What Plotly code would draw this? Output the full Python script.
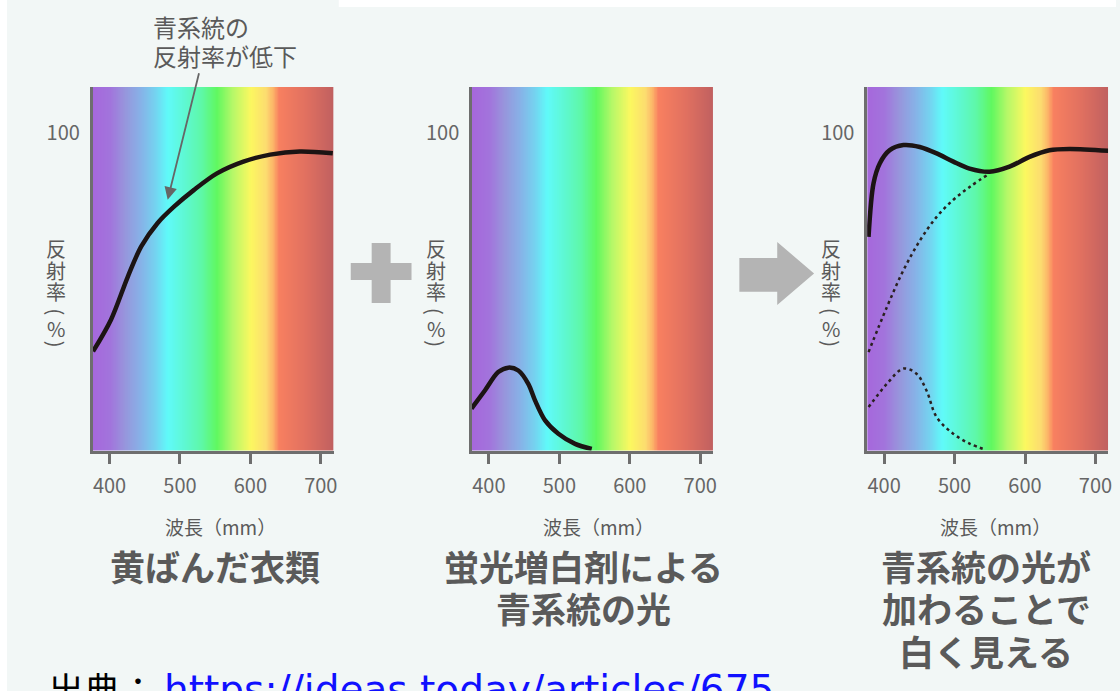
import numpy as np
import plotly.graph_objects as go

# ---------------- data ----------------
tick_vals = [400, 500, 600, 700]
tick_text = ["400", "500", "600", "700"]
x_range = [376, 718]
y_range = [0, 114.5]

# Panel 1: yellowed clothing reflectance
p1_nm = [376.5, 402, 426, 445, 468, 491.5, 520, 552.5, 590, 628, 670, 717]
p1_refl = [31.2, 41.2, 54.8, 64.3, 71.6, 76.8, 82.1, 87.3, 91.0, 93.2, 94.2, 93.6]

# Panel 2: blue light from fluorescent whitening agent
p2_nm = [375.2, 394.3, 413.2, 427.5, 441.7, 455.9, 465.4, 479.7, 498.6, 522.3, 546]
p2_refl = [13.2, 18.9, 24.7, 26.1, 25.2, 21.0, 15.8, 9.5, 5.3, 2.1, 0.5]

# Panel 3: combined reflectance (solid) and the two components (dotted)
p3_nm = [377.9, 385, 394, 408, 427.5, 450.6, 474.6, 498.3, 521.4, 549.7, 578, 606.4, 634.7, 663, 718]
p3_refl = [67.3, 84.2, 90.5, 94.6, 96.2, 95.6, 93.6, 91.0, 88.8, 87.8, 89.4, 92.5, 94.6, 95.0, 94.4]
p3_up_nm = [377.9, 404, 427.5, 451, 474.6, 498, 522, 550]
p3_up_refl = [31.0, 45.2, 56.8, 66.2, 73.6, 78.9, 83.1, 87.3]
p3_low_nm = [378, 404, 427.5, 446, 460, 474.6, 498, 522, 545]
p3_low_refl = [13.7, 21.0, 25.8, 24.2, 19.0, 10.5, 5.3, 2.1, 0.2]

# Spectrum background colours
spectrum_nm = [376, 400, 420, 445, 465, 482, 510, 530, 552, 575, 600, 622, 632, 640, 680, 718]
spectrum_col = ["#a668dc", "#a274dc", "#9894dc", "#86b4e8", "#74d4f0", "#60fafa", "#5ef8cc",
                "#5ef8a8", "#60f860", "#b8f868", "#fcf860", "#fcdc70", "#fcb468", "#f88060",
                "#e07060", "#c06060"]

panel_titles = [["黄ばんだ衣類"], ["蛍光増白剤による", "青系統の光"], ["青系統の光が", "加わることで", "白く見える"]]
x_title = "波長（mm）"
y_title_chars = ["反", "射", "率", "(", "%", ")"]
y_title_angles = [0, 0, 0, 90, 0, 90]
note_text = ["青系統の", "反射率が低下"]
source_label = "出典："
source_url = "https://ideas.today/articles/675"

# ---------------- helpers ----------------
W, H = 1120, 691
def px(x):
    return x / W
def py(y):
    return 1 - y / H

FONT = "Noto Sans CJK JP, Noto Sans, sans-serif"
GRAY_TXT = "#5a5a5a"
AX_COL = "#6e6e6e"
LINE_COL = "#1c1414"

panels = [(93.0, 334.7), (473.7, 715.5), (870.3, 1112.1)]
y_top, y_bot = 87.0, 450.5

lo, hi = spectrum_nm[0], spectrum_nm[-1]
colorscale = [[(v - lo) / (hi - lo), c] for v, c in zip(spectrum_nm, spectrum_col)]
grid = np.arange(lo, hi + 1, 1.0)

fig = go.Figure()
layout = dict()
for i, (l, r) in enumerate(panels):
    n = "" if i == 0 else str(i + 1)
    xa, ya = "x" + n, "y" + n
    fig.add_trace(go.Heatmap(x=grid, y=[y_range[0], y_range[1]], z=[grid, grid],
                             colorscale=colorscale, zmin=lo, zmax=hi, showscale=False,
                             zsmooth="best", hoverinfo="skip", xaxis=xa, yaxis=ya))
    layout["xaxis" + n] = dict(domain=[px(l), px(r)], range=x_range, anchor=ya,
                               tickvals=tick_vals, ticktext=tick_text, ticks="outside",
                               ticklen=11, tickwidth=2.5, tickcolor=AX_COL, showline=True,
                               linecolor=AX_COL, linewidth=2.5, showgrid=False, zeroline=False,
                               tickfont=dict(family=FONT, size=20, color="#666666"),
                               ticklabelstandoff=5, fixedrange=True)
    layout["yaxis" + n] = dict(domain=[py(y_bot), py(y_top)], range=y_range, anchor=xa,
                               tickvals=[100], ticktext=["100"], ticks="", showline=True,
                               linecolor=AX_COL, linewidth=2.5, showgrid=False, zeroline=False,
                               tickfont=dict(family=FONT, size=20, color="#666666"),
                               ticklabelstandoff=6, fixedrange=True)

# curves
SOLID = dict(color=LINE_COL, width=4.5, shape="spline", smoothing=0.9)
DOT = dict(color="#2a2020", width=2.5, dash="3px,3.5px", shape="spline")
fig.add_trace(go.Scatter(x=p1_nm, y=p1_refl, mode="lines", line=SOLID,
                         xaxis="x", yaxis="y", hoverinfo="skip"))
fig.add_trace(go.Scatter(x=p2_nm, y=p2_refl, mode="lines", line=SOLID,
                         xaxis="x2", yaxis="y2", hoverinfo="skip"))
fig.add_trace(go.Scatter(x=p3_up_nm, y=p3_up_refl, mode="lines", line=DOT,
                         xaxis="x3", yaxis="y3", hoverinfo="skip"))
fig.add_trace(go.Scatter(x=p3_low_nm, y=p3_low_refl, mode="lines", line=DOT,
                         xaxis="x3", yaxis="y3", hoverinfo="skip"))
fig.add_trace(go.Scatter(x=p3_nm, y=p3_refl, mode="lines", line=SOLID,
                         xaxis="x3", yaxis="y3", hoverinfo="skip"))

annotations = []
title_centers = [216, 585.5, 990]
title_rows = [565, 607, 650]
xtitle_centers = [221, 601, 999]
ycs = [248.3, 270, 291.7, 311.7, 328.3, 344]
for i, (l, r) in enumerate(panels):
    # x axis title
    annotations.append(dict(x=px(xtitle_centers[i]), y=py(526), xref="paper", yref="paper",
                            text=x_title, showarrow=False, xanchor="center", yanchor="middle",
                            font=dict(family=FONT, size=19, color=GRAY_TXT)))
    # vertical y title
    for ch, ang, yc in zip(y_title_chars, y_title_angles, ycs):
        annotations.append(dict(x=px(l - 36.5), y=py(yc), xref="paper", yref="paper",
                                text=ch, textangle=ang, showarrow=False, xanchor="center", yanchor="middle",
                                font=dict(family=FONT, size=20, color=GRAY_TXT)))
    # bold titles
    for j, line in enumerate(panel_titles[i]):
        annotations.append(dict(x=px(title_centers[i]), y=py(title_rows[j]), xref="paper", yref="paper",
                                text="<b>" + line + "</b>", showarrow=False, xanchor="center",
                                yanchor="middle", font=dict(family=FONT, size=35, color=GRAY_TXT)))

# callout note
for j, line in enumerate(note_text):
    annotations.append(dict(x=px(152), y=py([27, 55][j]), xref="paper", yref="paper", text=line,
                            showarrow=False, xanchor="left", yanchor="middle",
                            font=dict(family=FONT, size=24, color=GRAY_TXT)))
annotations.append(dict(x=482.5, y=79, xref="x", yref="y", text="", showarrow=True,
                        ax=31.7, ay=-128, arrowhead=2, arrowsize=1.4, arrowwidth=1.8,
                        arrowcolor="#666666"))

# source line (cut by the bottom edge, as in the original)
annotations.append(dict(x=px(46), y=py(660), xref="paper", yref="paper", xanchor="left", yanchor="top",
                        text=source_label, showarrow=False,
                        font=dict(family=FONT, size=36, color="#000000")))
annotations.append(dict(x=px(163), y=py(665), xref="paper", yref="paper", xanchor="left", yanchor="top",
                        text=source_url, showarrow=False,
                        font=dict(family="DejaVu Sans, sans-serif", size=39, color="#1010ff")))

# decorative plus and arrow
SYM = "#b4b4b4"
shapes = [
    dict(type="rect", xref="paper", yref="paper", x0=px(352), x1=px(413), y0=py(280), y1=py(263),
         fillcolor=SYM, line=dict(width=0)),
    dict(type="rect", xref="paper", yref="paper", x0=px(373), x1=px(392), y0=py(303), y1=py(243),
         fillcolor=SYM, line=dict(width=0)),
]
pts = [(742, 258), (780, 258), (780, 242), (817, 273.5), (780, 305), (780, 291.7), (742, 291.7)]
path = "M " + " L ".join(f"{px(a):.5f},{py(b):.5f}" for a, b in pts) + " Z"
shapes.append(dict(type="path", xref="paper", yref="paper", path=path, fillcolor=SYM, line=dict(width=0)))
# white frame edges of the original picture
shapes.append(dict(type="rect", xref="paper", yref="paper", x0=0, x1=px(7), y0=0, y1=1,
                   fillcolor="#ffffff", line=dict(width=0), layer="below"))
shapes.append(dict(type="rect", xref="paper", yref="paper", x0=px(340), x1=1, y0=py(7), y1=1,
                   fillcolor="#ffffff", line=dict(width=0), layer="below"))

fig.update_layout(width=W, height=H, margin=dict(l=0, r=0, t=0, b=0), autosize=False,
                  paper_bgcolor="#f2f7f6", plot_bgcolor="#f2f7f6", showlegend=False,
                  annotations=annotations, shapes=shapes, **layout)

fig.write_html("out.html", config={"displayModeBar": False},
               post_script="document.body.style.margin='0px';document.body.style.overflow='hidden';")
